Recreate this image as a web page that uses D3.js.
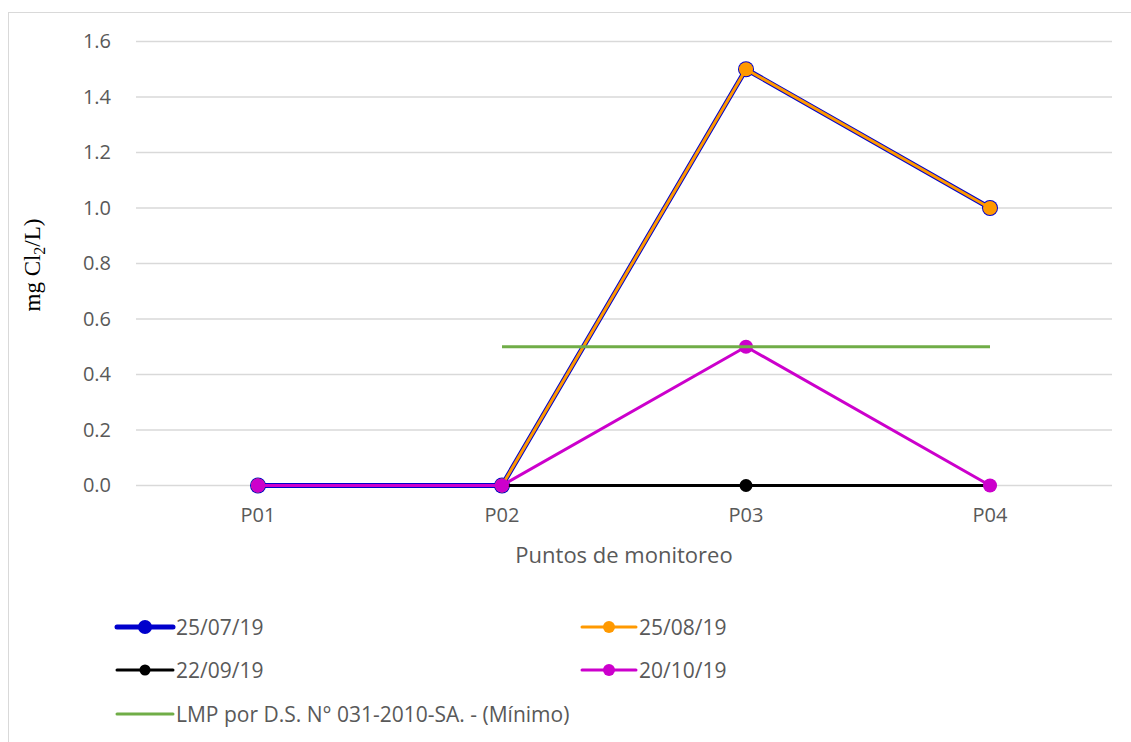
<!DOCTYPE html>
<html>
<head>
<meta charset="utf-8">
<script src="https://cdn.jsdelivr.net/npm/d3@7"></script>
<style>
  body { margin: 0; background: #fff; }
  svg text { font-family: "Open Sans", "Noto Sans", sans-serif; fill: #595959; }
</style>
</head>
<body>
<svg id="chart" width="1131" height="742"></svg>
<script>
// data
var puntos = ["P01", "P02", "P03", "P04"];
var s250719 = [0, 0, 1.5, 1.0];
var s250819 = [0, 0, 1.5, 1.0];
var s220919 = [0, 0, 0, 0];
var s201019 = [0, 0, 0.5, 0];
var lmp = [null, 0.5, 0.5, 0.5];
var yTicks = [0, 0.2, 0.4, 0.6, 0.8, 1.0, 1.2, 1.4, 1.6];

var series = [
  { name: "25/07/19", values: s250719, color: "#0000cc", width: 5, r: 8 },
  { name: "25/08/19", values: s250819, color: "#ff9900", width: 3, r: 7 },
  { name: "22/09/19", values: s220919, color: "#000000", width: 3, r: 6.5 },
  { name: "20/10/19", values: s201019, color: "#cc00cc", width: 3, r: 7 },
  { name: "LMP por D.S. N° 031-2010-SA. - (Mínimo)", values: lmp, color: "#70ad47", width: 3, r: 0 }
];

var svg = d3.select("#chart");

// chart border
svg.append("rect")
  .attr("x", 8.5).attr("y", 12.5)
  .attr("width", 1140).attr("height", 740)
  .attr("fill", "none").attr("stroke", "#d9d9d9").attr("stroke-width", 1);

var plotLeft = 136, plotRight = 1112, plotTop = 41.5, plotBottom = 485.5;

var x = d3.scaleBand().domain(puntos).range([plotLeft, plotRight]);
var y = d3.scaleLinear().domain([0, 1.6]).range([plotBottom, plotTop]);

// gridlines
svg.append("g").selectAll("line")
  .data(yTicks).enter().append("line")
  .attr("x1", plotLeft).attr("x2", plotRight)
  .attr("y1", function(d) { return y(d); })
  .attr("y2", function(d) { return y(d); })
  .attr("stroke", "#d9d9d9").attr("stroke-width", 1.3);

// y axis labels
var yAxis = svg.append("g")
  .attr("transform", "translate(" + (plotLeft - 22) + ",0)")
  .call(d3.axisLeft(y).tickValues(yTicks).tickFormat(d3.format(".1f")).tickSize(0));
yAxis.select(".domain").remove();
yAxis.attr("font-size", null).attr("font-family", null);
yAxis.selectAll("text").style("font-size", "20px").style("fill", "#595959");

// x axis labels
var xAxis = svg.append("g")
  .attr("transform", "translate(0," + (plotBottom + 19) + ")")
  .call(d3.axisBottom(x).tickSize(0));
xAxis.select(".domain").remove();
xAxis.attr("font-size", null).attr("font-family", null);
xAxis.selectAll("text").style("font-size", "20px").style("fill", "#595959");

// axis titles
svg.append("text")
  .attr("x", (plotLeft + plotRight) / 2).attr("y", 563)
  .attr("text-anchor", "middle").style("font-size", "22px")
  .text("Puntos de monitoreo");

var yt = svg.append("text")
  .attr("transform", "translate(40,265) rotate(-90)")
  .attr("text-anchor", "middle")
  .style("font-family", "'Liberation Serif', 'DejaVu Serif', serif")
  .style("fill", "#000")
  .style("font-size", "23px");
yt.append("tspan").text("mg Cl");
yt.append("tspan").style("font-size", "16px").attr("dy", 5).text("2");
yt.append("tspan").attr("dy", -5).text("/L)");

var line = d3.line()
  .defined(function(d) { return d != null; })
  .x(function(d, i) { return x(puntos[i]) + x.bandwidth() / 2; })
  .y(function(d) { return y(d); });

var cx = function(d, i) { return x(puntos[i]) + x.bandwidth() / 2; };

series.forEach(function(s) {
  var g = svg.append("g");
  g.append("path")
    .attr("d", line(s.values))
    .attr("fill", "none")
    .attr("stroke", s.color)
    .attr("stroke-width", s.width)
    .attr("stroke-linejoin", "round");
  if (s.r > 0) {
    g.selectAll("circle")
      .data(s.values).enter().append("circle")
      .attr("cx", cx)
      .attr("cy", function(d) { return y(d); })
      .attr("r", s.r)
      .attr("fill", s.color);
  }
});

// legend
var legendPos = [
  [117, 627], [582, 627],
  [117, 670], [582, 670],
  [117, 714]
];
var lg = svg.append("g");
series.forEach(function(s, i) {
  var p = legendPos[i];
  var lw = i % 2 === 0 ? 56 : 54;
  lg.append("line")
    .attr("x1", p[0]).attr("x2", p[0] + lw)
    .attr("y1", p[1]).attr("y2", p[1])
    .attr("stroke", s.color).attr("stroke-width", s.width)
    .attr("stroke-linecap", "round");
  if (s.r > 0) {
    lg.append("circle")
      .attr("cx", p[0] + lw / 2).attr("cy", p[1])
      .attr("r", s.r - 1).attr("fill", s.color);
  }
  lg.append("text")
    .attr("x", p[0] + lw + 3).attr("y", p[1] + 8)
    .style("font-size", "21px")
    .text(s.name);
});
</script>
</body>
</html>
